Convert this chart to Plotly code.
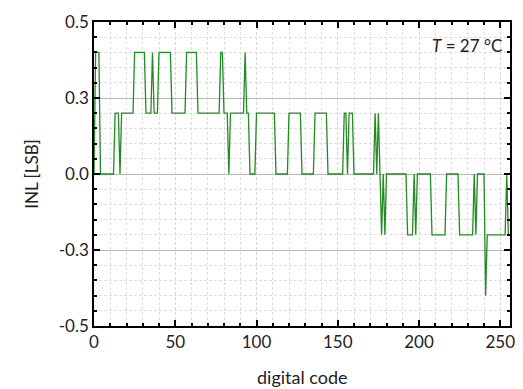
import plotly.graph_objects as go

codes = list(range(256))
inl = [
    0.0, 0.4, 0.4, 0.4, 0.0, 0.0, 0.0, 0.0, 0.0, 0.0,      # 0-9
    0.0, 0.0, 0.0, 0.2, 0.2, 0.2, 0.0, 0.2, 0.2, 0.2,      # 10-19
    0.2, 0.2, 0.2, 0.2, 0.2, 0.4, 0.4, 0.4, 0.4, 0.4,      # 20-29
    0.4, 0.4, 0.2, 0.2, 0.2, 0.2, 0.4, 0.2, 0.2, 0.2,      # 30-39
    0.4, 0.4, 0.4, 0.4, 0.4, 0.4, 0.4, 0.4, 0.2, 0.2,      # 40-49
    0.2, 0.2, 0.2, 0.2, 0.2, 0.2, 0.2, 0.4, 0.4, 0.4,      # 50-59
    0.4, 0.4, 0.4, 0.4, 0.2, 0.2, 0.2, 0.2, 0.2, 0.2,      # 60-69
    0.2, 0.2, 0.2, 0.2, 0.2, 0.2, 0.2, 0.2, 0.4, 0.4,      # 70-79
    0.2, 0.2, 0.2, 0.0, 0.2, 0.2, 0.2, 0.2, 0.2, 0.2,      # 80-89
    0.2, 0.2, 0.2, 0.4, 0.2, 0.2, 0.0, 0.0, 0.0, 0.0,      # 90-99
    0.2, 0.2, 0.2, 0.2, 0.2, 0.2, 0.2, 0.2, 0.2, 0.2,      # 100-109
    0.2, 0.2, 0.0, 0.0, 0.0, 0.0, 0.0, 0.0, 0.0, 0.0,      # 110-119
    0.2, 0.2, 0.2, 0.2, 0.2, 0.2, 0.2, 0.2, 0.0, 0.0,      # 120-129
    0.0, 0.0, 0.0, 0.0, 0.0, 0.0, 0.2, 0.2, 0.2, 0.2,      # 130-139
    0.2, 0.2, 0.2, 0.2, 0.0, 0.0, 0.0, 0.0, 0.0, 0.0,      # 140-149
    0.0, 0.0, 0.0, 0.0, 0.2, 0.2, 0.0, 0.2, 0.2, 0.2,      # 150-159
    0.0, 0.0, 0.0, 0.0, 0.0, 0.0, 0.0, 0.0, 0.0, 0.0,      # 160-169
    0.0, 0.0, 0.0, 0.2, 0.0, 0.2, 0.0, -0.2, 0.0, -0.2,    # 170-179
    0.0, 0.0, 0.0, 0.0, 0.0, 0.0, 0.0, 0.0, 0.0, 0.0,      # 180-189
    0.0, 0.0, 0.0, -0.2, -0.2, -0.2, -0.2, 0.0, -0.2, 0.0,  # 190-199
    0.0, 0.0, 0.0, 0.0, 0.0, 0.0, 0.0, 0.0, -0.2, -0.2,    # 200-209
    -0.2, -0.2, -0.2, -0.2, -0.2, -0.2, -0.2, 0.0, 0.0, 0.0,  # 210-219
    0.0, 0.0, 0.0, 0.0, 0.0, -0.2, -0.2, -0.2, -0.2, -0.2,  # 220-229
    -0.2, -0.2, -0.2, -0.2, 0.0, -0.2, 0.0, 0.0, 0.0, 0.0,  # 230-239
    0.0, -0.4, -0.2, -0.2, -0.2, -0.2, -0.2, -0.2, -0.2, -0.2,  # 240-249
    -0.2, -0.2, -0.2, -0.2, 0.0, -0.2,                      # 250-255
]

x_tickvals = [0, 50, 100, 150, 200, 250]
y_tickvals = [-0.5, -0.25, 0.0, 0.25, 0.5]
y_ticktext = ["-0.5", "-0.3", "0.0", "0.3", "0.5"]

FONT = "Lato, Carlito, 'Open Sans', sans-serif"
DASH = "3px,2px"

fig = go.Figure()
fig.add_trace(go.Scatter(
    x=codes, y=inl, mode="lines",
    line=dict(color="#228B22", width=1.3),
    showlegend=False,
))

fig.update_xaxes(
    range=[0, 256],
    tickvals=x_tickvals,
    ticks="inside", ticklen=6, tickwidth=1.5, tickcolor="black",
    showline=True, linecolor="black", linewidth=1.5, mirror="allticks",
    showgrid=True, gridcolor="#d6d6d6", griddash=DASH, gridwidth=1,
    zeroline=False, automargin=False,
    minor=dict(dtick=10, ticks="inside", ticklen=3, tickcolor="black",
               showgrid=True, gridcolor="#dedede", griddash=DASH, gridwidth=1),
    tickfont=dict(family=FONT, size=17, color="#222"),
)
fig.update_yaxes(
    range=[-0.5, 0.5],
    tickvals=y_tickvals, ticktext=y_ticktext,
    ticks="inside", ticklen=6, tickwidth=1.5, tickcolor="black",
    showline=True, linecolor="black", linewidth=1.5, mirror="allticks",
    showgrid=True, gridcolor="#b8b8b8", gridwidth=1,
    zeroline=False,
    minor=dict(dtick=0.05, tick0=0, ticks="inside", ticklen=3, tickcolor="black",
               showgrid=True, gridcolor="#dedede", griddash=DASH, gridwidth=1),
    tickfont=dict(family=FONT, size=17, color="#222"),
    title=dict(text="INL [LSB]", font=dict(family=FONT, size=17, color="#222"), standoff=16),
)

fig.add_annotation(
    x=0.5, y=-0.168, xref="paper", yref="paper",
    xanchor="center", yanchor="middle", showarrow=False,
    text="digital code",
    font=dict(family=FONT, size=18, color="#222"),
)

fig.add_annotation(
    x=0.985, y=0.965, xref="paper", yref="paper",
    xanchor="right", yanchor="top", showarrow=False,
    text="<i>T</i> = 27 °C",
    font=dict(family=FONT, size=17, color="#222"),
)

fig.update_layout(
    width=523, height=389,
    margin=dict(l=94, r=11, t=16, b=63),
    paper_bgcolor="white", plot_bgcolor="white",
)

fig.write_html("out.html")
